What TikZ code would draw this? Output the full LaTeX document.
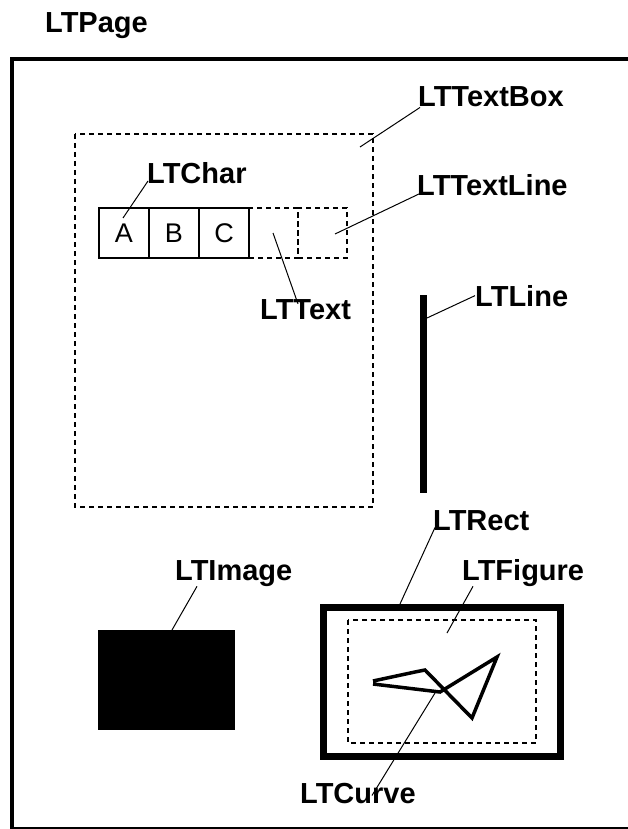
\documentclass[tikz,border=0pt]{standalone}
\usepackage{fontspec}
\setmainfont{Liberation Sans}
\usetikzlibrary{positioning}

\begin{document}
\begin{tikzpicture}[
    x=1pt, y=-1pt,
    lbl/.style={anchor=base west, inner sep=0pt, font=\fontsize{29}{34}\selectfont\bfseries},
    charcell/.style={rectangle, draw, line width=1.5pt, minimum width=50pt, minimum height=50pt, inner sep=0pt, outer sep=0pt, font=\fontsize{27}{32}\selectfont},
    textcell/.style={rectangle, draw, line width=1.5pt, dash pattern=on 5pt off 4pt, minimum width=49pt, minimum height=50pt, inner sep=0pt, outer sep=0pt},
    dashbox/.style={line width=1.5pt, dash pattern=on 5pt off 4pt},
    leader/.style={line width=1pt}
]

\clip (0,0) rectangle (628,829);

% page frame (open to the right)
\draw[line width=4.5pt] (12,59) rectangle (700,829);
\node[lbl] (pagelbl) at (45,33) {LTPage};

% text box with one text line
\draw[dashbox] (75,134) rectangle (373,507);
\node[charcell] (ca) at (124,233) {A};
\node[charcell, right=0pt of ca] (cb) {B};
\node[charcell, right=0pt of cb] (cc) {C};
\node[textcell, right=0pt of cc] (cd) {};
\node[textcell, right=0pt of cd] (ce) {};

\node[lbl] (boxlbl) at (418,107) {LTTextBox};
\node[lbl] (linelbl) at (417,195) {LTTextLine};
\node[lbl] (charlbl) at (147,183) {LTChar};
\node[lbl] (textlbl) at (260,319) {LTText};

\coordinate (boxpt) at (360,147);
\coordinate (linept) at (335,234);
\coordinate (charpt) at (123,218);
\coordinate (textpt) at (273,233);

\draw[leader] ([xshift=2pt]boxlbl.south west) -- (boxpt);
\draw[leader] ([xshift=4pt,yshift=2pt]linelbl.base west) -- (linept);
\draw[leader] ([xshift=1pt,yshift=2pt]charlbl.base west) -- (charpt);
\draw[leader] ([xshift=38pt,yshift=-5pt]textlbl.north west) -- (textpt);

% line
\draw[line width=7pt] (423,295) -- (423,493);
\coordinate (rulept) at (427,318);
\node[lbl] (rulelbl) at (475,306) {LTLine};
\draw[leader] (rulelbl.west) -- (rulept);

% image
\fill (98,630) rectangle (235,730);
\coordinate (imgpt) at (172,630);
\node[lbl] (imglbl) at (175,580) {LTImage};
\draw[leader] ([xshift=22pt]imglbl.south west) -- (imgpt);

% rect, figure and curve
\draw[line width=7pt] (323,607) rectangle (560,756);
\draw[dashbox] (348,620) rectangle (536,743);
\draw[line width=3.5pt, line join=miter] (373,681) -- (415,672) -- (425,670) -- (472,718) -- (497,657) -- (440,692) -- (373,684);

\coordinate (rectpt) at (400,604);
\coordinate (figpt) at (447,633);
\coordinate (curvept) at (435,693);

\node[lbl] (rectlbl) at (433,530) {LTRect};
\node[lbl] (figlbl) at (462,580) {LTFigure};
\node[lbl] (curvelbl) at (300,803) {LTCurve};

\draw[leader] ([xshift=2pt,yshift=3pt]rectlbl.south west) -- (rectpt);
\draw[leader] ([xshift=11pt]figlbl.south west) -- (figpt);
\draw[leader] ([xshift=14pt,yshift=-13pt]curvelbl.north) -- (curvept);

\end{tikzpicture}
\end{document}
